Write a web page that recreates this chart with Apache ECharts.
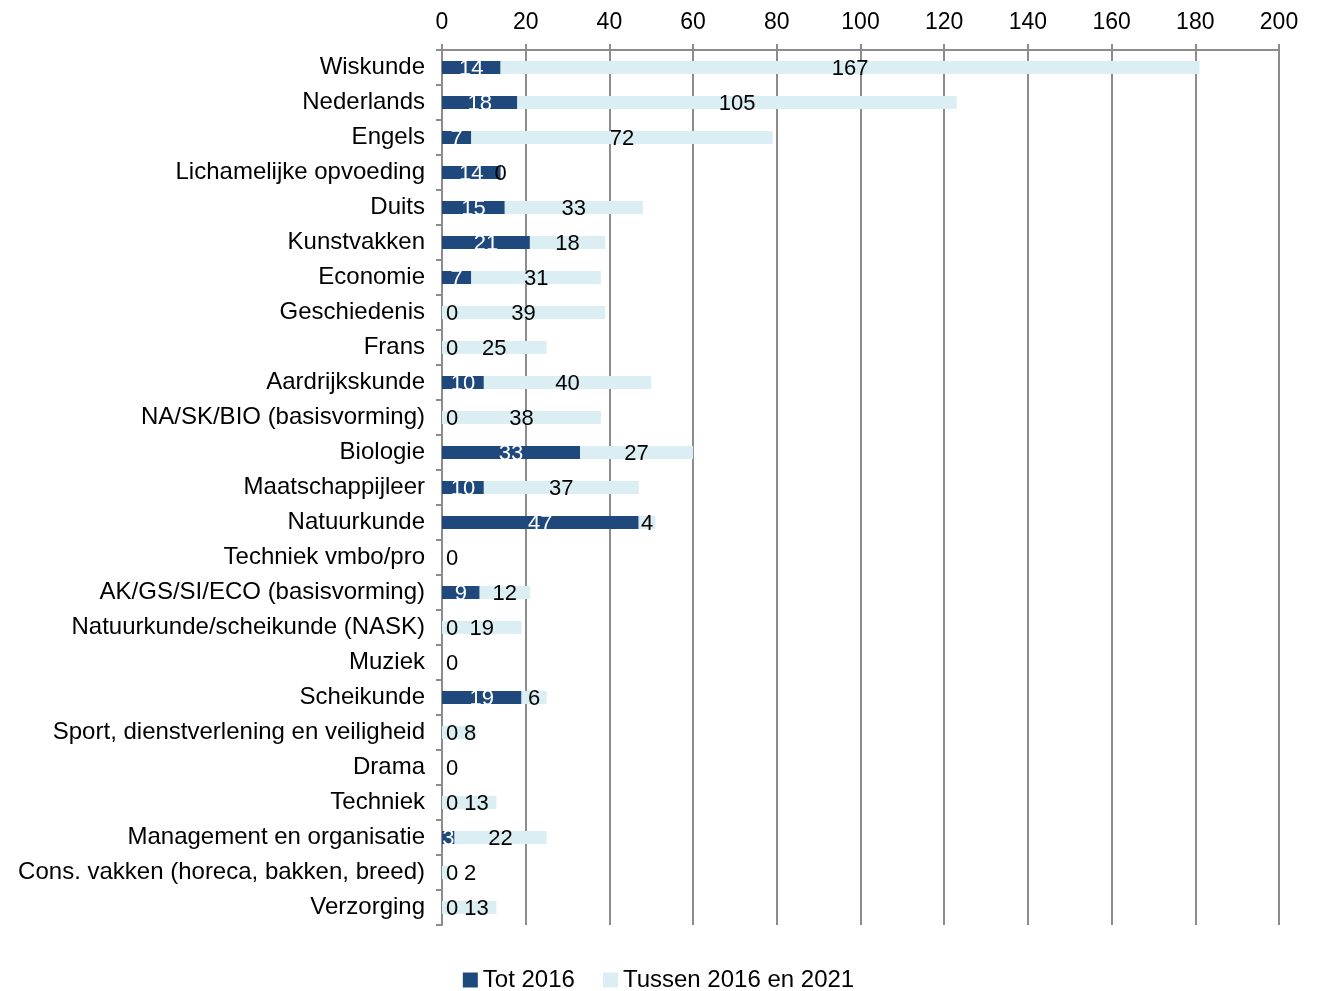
<!DOCTYPE html>
<html>
<head>
<meta charset="utf-8">
<script src="https://cdn.jsdelivr.net/npm/echarts@6/dist/echarts.min.js"></script>
<style>
  html, body { margin: 0; padding: 0; background: #fff; }
  #chart { width: 1317px; height: 991px; }
</style>
</head>
<body>
<div id="chart"></div>
<script>
var categories = ['Wiskunde', 'Nederlands', 'Engels', 'Lichamelijke opvoeding', 'Duits', 'Kunstvakken',
    'Economie', 'Geschiedenis', 'Frans', 'Aardrijkskunde', 'NA/SK/BIO (basisvorming)', 'Biologie',
    'Maatschappijleer', 'Natuurkunde', 'Techniek vmbo/pro', 'AK/GS/SI/ECO (basisvorming)',
    'Natuurkunde/scheikunde (NASK)', 'Muziek', 'Scheikunde', 'Sport, dienstverlening en veiligheid',
    'Drama', 'Techniek', 'Management en organisatie', 'Cons. vakken (horeca, bakken, breed)', 'Verzorging'];
var tot2016 = [14, 18, 7, 14, 15, 21, 7, 0, 0, 10, 0, 33, 10, 47, 0, 9, 0, 0, 19, 0, 0, 0, 3, 0, 0];
var tussen = [167, 105, 72, 0, 33, 18, 31, 39, 25, 40, 38, 27, 37, 4, 0, 12, 19, 0, 6, 8, 0, 13, 22, 2, 13];

var gridLeft = 442, gridRight = 38;
var pxPerUnit = (1317 - gridLeft - gridRight) / 200;
var font = 'Liberation Sans, Arial, sans-serif';

// zero labels of the dark series sit just right of the axis, in black
var totData = tot2016.map(function (v) {
    if (v === 0) {
        return { value: v, label: { color: '#000', offset: [10, 1] } };
    }
    return v;
});

// light labels get pushed right when a zero label sits next to them
var tussenData = tussen.map(function (v, i) {
    if (tot2016[i] === 0) {
        if (v === 0) return { value: v, label: { show: false } };
        var natural = (v / 2) * pxPerUnit;
        var need = 10 + 4.5 + 7 + String(v).length * 6.5;
        if (natural < need) {
            return { value: v, label: { offset: [need - natural, 1] } };
        }
    }
    return v;
});

var chart = echarts.init(document.getElementById('chart'));
chart.setOption({
    animation: false,
    textStyle: { fontFamily: font },
    grid: { left: gridLeft, right: gridRight, top: 50, bottom: 66 },
    legend: {
        top: 963,
        left: 'center',
        itemWidth: 15,
        itemHeight: 15,
        itemGap: 28,
        icon: 'rect',
        textStyle: { fontSize: 24, color: '#000', fontFamily: font },
        data: ['Tot 2016', 'Tussen 2016 en 2021']
    },
    xAxis: {
        type: 'value',
        position: 'top',
        min: 0,
        max: 200,
        interval: 20,
        axisLine: { show: true, lineStyle: { color: '#8c8c8c', width: 2 } },
        axisTick: { show: true, length: 6, lineStyle: { color: '#8c8c8c', width: 2 } },
        axisLabel: { fontSize: 23, color: '#000', margin: 16 },
        splitLine: { show: true, lineStyle: { color: '#8c8c8c', width: 2 } }
    },
    yAxis: {
        type: 'category',
        inverse: true,
        data: categories,
        axisLine: { lineStyle: { color: '#8c8c8c', width: 2 } },
        axisTick: { show: true, length: 6, lineStyle: { color: '#8c8c8c', width: 2 } },
        axisLabel: { fontSize: 24, color: '#000', margin: 17 }
    },
    series: [
        {
            name: 'Tot 2016',
            type: 'bar',
            stack: 'total',
            barWidth: 13,
            itemStyle: { color: '#1f497d' },
            label: { show: true, position: 'inside', color: '#fff', fontSize: 22, offset: [0, 1] },
            data: totData
        },
        {
            name: 'Tussen 2016 en 2021',
            type: 'bar',
            stack: 'total',
            barWidth: 13,
            itemStyle: { color: '#daeef3' },
            label: { show: true, position: 'inside', color: '#000', fontSize: 22, offset: [0, 1] },
            data: tussenData
        }
    ]
});
</script>
</body>
</html>
